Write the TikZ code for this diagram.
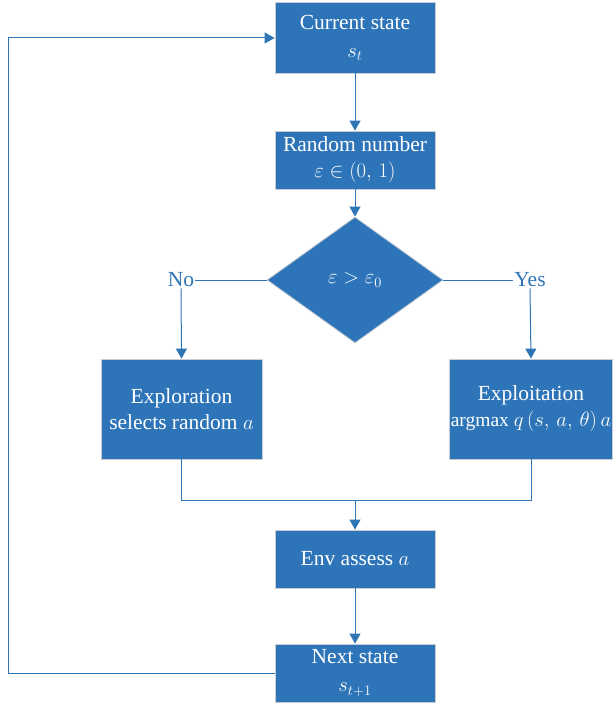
\documentclass[tikz,border=0pt]{standalone}
\usepackage{fontspec}
\setmainfont{Liberation Serif}
\usetikzlibrary{shapes.geometric,arrows.meta}
\definecolor{boxblue}{RGB}{46,116,184}
\definecolor{lineblue}{RGB}{46,117,182}
\definecolor{rimgray}{RGB}{200,205,212}
\begin{document}
\begin{tikzpicture}[x=1pt,y=-1pt,
  box/.style={draw=rimgray,line width=0.8pt,fill=boxblue,text=white,
    minimum width=160pt,align=center,inner sep=0pt,font=\fontsize{21.5}{26}\selectfont},
  flow/.style={draw=lineblue,line width=1pt},
  arr/.style={flow,-{Triangle[length=10pt,width=11pt]}},
  lbl/.style={text=lineblue,font=\fontsize{21.5}{24}\selectfont,inner sep=1pt}]
\useasboundingbox (0,0) rectangle (613,706);
% boxes of the loop
\node[box,minimum height=71pt] (cur) at (355,37.5) {Current state\\[2pt]$s_t$};
\node[box,minimum height=58pt] (rnd) at (355,160) {Random number\\$\varepsilon\in(0,\,1)$};
\node[diamond,draw=rimgray,line width=0.8pt,fill=boxblue,text=white,
  minimum width=176pt,minimum height=126pt,inner sep=0pt,aspect=1.4,
  font=\fontsize{21.5}{24}\selectfont] (dec) at (355,280) {$\varepsilon>\varepsilon_0$};
\node[box,minimum width=161pt,minimum height=100pt] (explore) at (181.5,409)
  {Exploration\\selects random $a$};
\node[box,minimum width=163pt,minimum height=100pt] (exploit) at (531,409)
  {Exploitation\\{\fontsize{19.5}{24}\selectfont argmax $q\,(s,\,a,\,\theta)\,a$}};
\node[box,minimum height=58pt] (env) at (355,559) {Env assess $a$};
\node[box,minimum height=58pt] (nxt) at (355,673) {Next state\\[2pt]$s_{t+1}$};
% branch labels
\node[lbl] (no) at (181,280) {No};
\node[lbl] (yes) at (530,280) {Yes};
\coordinate (merge) at (355,500);
\coordinate (loopb) at (8,673);
\coordinate (loopt) at (8,38);
% connectors
\draw[arr] (cur) -- (rnd);
\draw[arr] (rnd) -- (dec);
\draw[flow] (dec.west) -- (no.east);
\draw[arr] (no.south) -- (explore.north);
\draw[flow] (dec.east) -- (yes.west);
\draw[arr] (yes.south) -- (exploit.north);
\draw[flow] (explore.south) |- (merge);
\draw[flow] (exploit.south) |- (merge);
\draw[arr] (merge) -- (env.north);
\draw[arr] (env) -- (nxt);
\draw[arr] (nxt.west) -- (loopb) -- (loopt) -- (cur.west |- loopt);
\end{tikzpicture}
\end{document}
